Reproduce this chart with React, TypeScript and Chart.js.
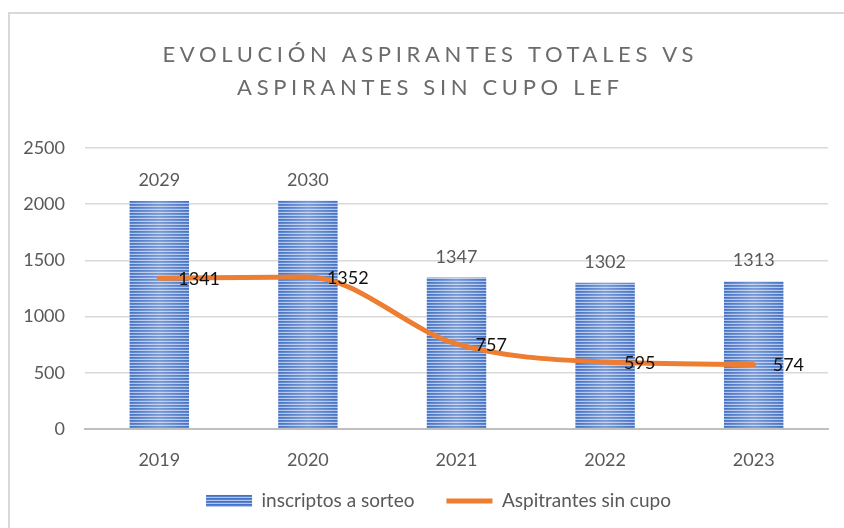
import { useEffect, useRef } from 'react';
import { Chart, registerables } from 'chart.js';

Chart.register(...registerables);

const years = ['2019', '2020', '2021', '2022', '2023'];
const inscriptos = [2029, 2030, 1347, 1302, 1313];
const sinCupo = [1341, 1352, 757, 595, 574];
const seriesNames = ['inscriptos a sorteo', 'Aspitrantes sin cupo'];
const titleLines = ['EVOLUCIÓN ASPIRANTES TOTALES VS', 'ASPIRANTES SIN CUPO LEF'];
const yMax = 2500;
const yStep = 500;

const FONT = 'Lato, "Open Sans", "Noto Sans", sans-serif';

function makeStripePattern(): CanvasPattern | string {
  const c = document.createElement('canvas');
  c.width = 1;
  c.height = 3;
  const g = c.getContext('2d');
  if (!g) return '#4472C4';
  g.fillStyle = '#4472C4';
  g.fillRect(0, 0, 1, 1);
  g.fillStyle = '#5a83cd';
  g.fillRect(0, 1, 1, 1);
  g.fillStyle = '#b3c5ea';
  g.fillRect(0, 2, 1, 1);
  const p = g.createPattern(c, 'repeat');
  return p || '#4472C4';
}

const titlePlugin = {
  id: 'spacedTitle',
  afterDraw(chart: any) {
    const ctx = chart.ctx as CanvasRenderingContext2D;
    ctx.save();
    ctx.font = `22px ${FONT}`;
    ctx.fillStyle = '#6b6b6b';
    ctx.textBaseline = 'middle';
    ctx.textAlign = 'left';
    const cx = 428;
    const ys = [55, 88];
    const w0 = ctx.measureText(titleLines[0]).width;
    const spacing = Math.max(0, (531 - w0) / (titleLines[0].length - 1));
    titleLines.forEach((line, i) => {
      const w = ctx.measureText(line).width + spacing * (line.length - 1);
      (ctx as any).letterSpacing = `${spacing}px`;
      ctx.fillText(line, cx - w / 2, ys[i]);
      (ctx as any).letterSpacing = '0px';
    });
    ctx.restore();
  },
};

const legendShiftPlugin = {
  id: 'legendShift',
  afterLayout(chart: any) {
    const l = chart.legend;
    if (l) {
      l.left += 13;
      l.right += 13;
      l.top -= 13.5;
      l.bottom -= 13.5;
    }
  },
};

const barShinePlugin = {
  id: 'barShine',
  afterDatasetDraw(chart: any, args: any) {
    if (args.index !== 0) return;
    const ctx = chart.ctx as CanvasRenderingContext2D;
    const meta = chart.getDatasetMeta(0);
    ctx.save();
    meta.data.forEach((el: any) => {
      const { x, y, base, width } = el.getProps(['x', 'y', 'base', 'width'], true);
      const left = x - width / 2;
      const grad = ctx.createLinearGradient(left, 0, left + width, 0);
      grad.addColorStop(0, 'rgba(255,255,255,0)');
      grad.addColorStop(0.5, 'rgba(255,255,255,0.28)');
      grad.addColorStop(1, 'rgba(255,255,255,0)');
      ctx.fillStyle = grad;
      ctx.fillRect(left, y, width, base - y);
    });
    ctx.restore();
  },
};

const labelsPlugin = {
  id: 'valueLabels',
  afterDatasetsDraw(chart: any) {
    const ctx = chart.ctx as CanvasRenderingContext2D;
    ctx.save();
    ctx.font = `18px ${FONT}`;
    const barMeta = chart.getDatasetMeta(0);
    ctx.fillStyle = '#595959';
    ctx.textAlign = 'center';
    ctx.textBaseline = 'alphabetic';
    barMeta.data.forEach((el: any, i: number) => {
      const { x, y } = el.getProps(['x', 'y'], true);
      ctx.fillText(String(inscriptos[i]), x, y - 15);
    });
    const lineMeta = chart.getDatasetMeta(1);
    ctx.fillStyle = '#111111';
    ctx.textAlign = 'left';
    ctx.textBaseline = 'middle';
    lineMeta.data.forEach((el: any, i: number) => {
      const { x, y } = el.getProps(['x', 'y'], true);
      ctx.fillText(String(sinCupo[i]), x + 19, y + 1);
    });
    ctx.restore();
  },
};

export default function App() {
  const ref = useRef<HTMLCanvasElement | null>(null);

  useEffect(() => {
    if (!ref.current) return;
    const stripes = makeStripePattern();
    const chart = new Chart(ref.current, {
      type: 'bar',
      data: {
        labels: years,
        datasets: [
          {
            type: 'bar',
            label: seriesNames[0],
            data: inscriptos,
            backgroundColor: stripes as any,
            borderWidth: 0,
            barPercentage: 0.4,
            categoryPercentage: 1,
            order: 1,
          } as any,
          {
            type: 'line',
            label: seriesNames[1],
            data: sinCupo,
            borderColor: '#ED7D31',
            backgroundColor: '#ED7D31',
            borderWidth: 5,
            pointRadius: 0,
            pointStyle: 'line',
            cubicInterpolationMode: 'monotone',
            borderCapStyle: 'round',
            borderJoinStyle: 'round',
            order: 0,
          } as any,
        ],
      },
      options: {
        responsive: false,
        animation: false,
        layout: { padding: { top: 148, left: 23, right: 16, bottom: -6 } },
        scales: {
          x: {
            grid: { display: false, drawTicks: false },
            border: { display: true, color: '#bfbfbf', width: 2 },
            ticks: { color: '#595959', font: { family: FONT, size: 18 }, padding: 20 },
            afterFit: (s: any) => {
              s.height = 44;
            },
          },
          y: {
            min: 0,
            max: yMax,
            ticks: {
              stepSize: yStep,
              color: '#595959',
              font: { family: FONT, size: 18 },
              padding: 20,
              callback: (v: any) => String(v),
            },
            grid: {
              drawTicks: false,
              color: (c: any) => (c.tick && c.tick.value === 0 ? '#bfbfbf' : '#d9d9d9'),
              lineWidth: (c: any) => (c.tick && c.tick.value === 0 ? 2 : 1.5),
            },
            border: { display: false },
            afterFit: (s: any) => {
              s.width = 62;
            },
          },
        },
        plugins: {
          title: { display: false },
          tooltip: { enabled: false },
          legend: {
            display: true,
            position: 'bottom',
            labels: {
              usePointStyle: true,
              pointStyleWidth: 46,
              boxHeight: 12,
              padding: 32,
              color: '#595959',
              font: { family: FONT, size: 19 },
              sort: (a: any, b: any) => a.datasetIndex - b.datasetIndex,
              generateLabels: (ch: any) => {
                const items = (Chart.defaults.plugins.legend.labels as any).generateLabels(ch);
                items.forEach((it: any) => {
                  if (it.datasetIndex === 0) {
                    it.pointStyle = 'rect';
                    it.lineWidth = 0;
                    it.fillStyle = stripes;
                  } else {
                    it.pointStyle = 'line';
                    it.lineWidth = 5;
                    it.strokeStyle = '#ED7D31';
                  }
                });
                return items;
              },
            },
          },
        },
      } as any,
      plugins: [titlePlugin, legendShiftPlugin, barShinePlugin, labelsPlugin],
    });
    return () => chart.destroy();
  }, []);

  return (
    <div style={{ position: 'fixed', left: 0, top: 0, width: 844, height: 528, background: '#fff', overflow: 'hidden' }}>
      <div
        style={{
          position: 'absolute',
          left: 8,
          top: 12,
          width: 900,
          height: 600,
          borderTop: '2px solid #d9d9d9',
          borderLeft: '2px solid #d9d9d9',
        }}
      />
      <canvas ref={ref} width={844} height={528} style={{ position: 'absolute', left: 0, top: 0, width: 844, height: 528 }} />
    </div>
  );
}
